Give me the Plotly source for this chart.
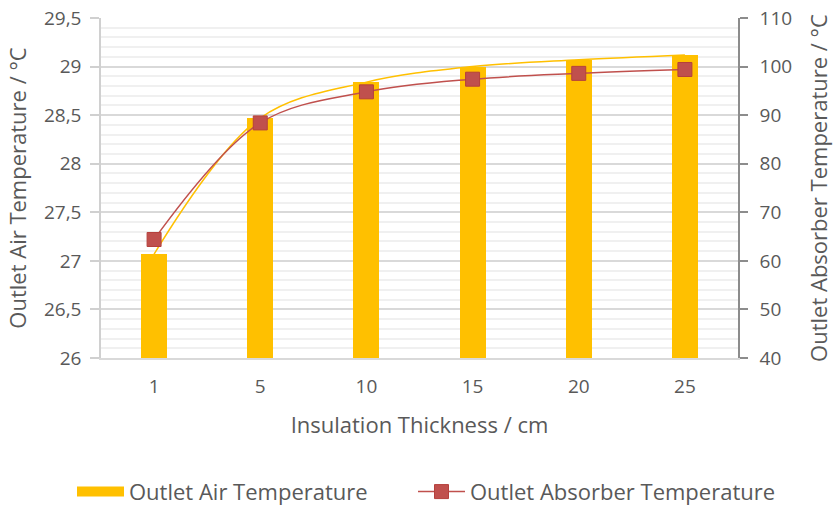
import plotly.graph_objects as go

# Insulation thickness categories (cm)
thickness = ["1", "5", "10", "15", "20", "25"]
# Outlet air temperature (°C), left axis
air_temp = [27.07, 28.47, 28.84, 29.00, 29.07, 29.12]
# Outlet absorber temperature (°C), right axis
absorber_temp = [64.4, 88.4, 94.8, 97.4, 98.6, 99.4]

left_ticks = [26, 26.5, 27, 27.5, 28, 28.5, 29, 29.5]
right_ticks = [40, 50, 60, 70, 80, 90, 100, 110]

YELLOW = "#FFC000"
RED = "#C0504D"
TEXT = "#595959"
FONT = "Open Sans"
TICK_SIZE = 19
TITLE_SIZE = 22

fig = go.Figure()

fig.add_trace(go.Bar(
    x=thickness, y=air_temp, width=0.245,
    marker=dict(color=YELLOW, line=dict(width=0)),
    name="Outlet Air Temperature", showlegend=False,
    legendgroup="air", yaxis="y",
))

fig.add_trace(go.Scatter(
    x=thickness, y=air_temp, mode="lines",
    line=dict(color=YELLOW, width=1.5, shape="spline", smoothing=1),
    showlegend=False, legendgroup="air", yaxis="y", hoverinfo="skip",
))

# legend swatch for the bar series (wide rectangle)
fig.add_trace(go.Scatter(
    x=[None], y=[None], mode="lines",
    line=dict(color=YELLOW, width=13),
    name="Outlet Air Temperature", legendgroup="air", yaxis="y",
    legend="legend",
))

fig.add_trace(go.Scatter(
    x=thickness, y=absorber_temp, mode="lines+markers",
    line=dict(color=RED, width=1.5, shape="spline", smoothing=1),
    marker=dict(symbol="square", size=14, color=RED,
                line=dict(color="#B5403C", width=1)),
    name="Outlet Absorber Temperature", yaxis="y2",
    legend="legend2",
))

legend_style = dict(
    orientation="h", xref="container", yref="container",
    xanchor="left", y=0.03, yanchor="middle",
    font=dict(size=TITLE_SIZE, color=TEXT), itemwidth=47,
    bgcolor="rgba(0,0,0,0)",
)

fig.update_layout(
    width=835, height=507,
    margin=dict(l=101, r=97, t=18, b=149, autoexpand=False),
    paper_bgcolor="white", plot_bgcolor="white",
    separators=",.",
    font=dict(family=FONT, size=TICK_SIZE, color=TEXT),
    bargap=0,
    xaxis=dict(
        type="category", categoryorder="array", categoryarray=thickness,
        showline=True, linecolor="#d9d9d9", linewidth=1.5,
        showgrid=False, ticks="", ticklabelstandoff=10,
        tickfont=dict(size=TICK_SIZE, color=TEXT),
        title=dict(text="Insulation Thickness / cm", standoff=20,
                   font=dict(size=TITLE_SIZE, color=TEXT)),
    ),
    yaxis=dict(
        range=[26, 29.5], tickvals=left_ticks,
        showline=True, linecolor="#d0d0d0", linewidth=1.5,
        ticks="outside", ticklen=9, tickcolor="#d0d0d0", tickwidth=1.5,
        ticklabelstandoff=5,
        showgrid=True, gridcolor="#d9d9d9", gridwidth=1.5,
        minor=dict(dtick=0.1, showgrid=True, gridcolor="#f0f0f0", gridwidth=1.5),
        zeroline=False, tickfont=dict(size=TICK_SIZE, color=TEXT),
        title=dict(text="Outlet Air Temperature / °C", standoff=11,
                   font=dict(size=TITLE_SIZE, color=TEXT)),
    ),
    yaxis2=dict(
        range=[40, 110], tickvals=right_ticks, overlaying="y", side="right",
        showline=True, linecolor="#8c8c8c", linewidth=1.5,
        ticks="outside", ticklen=8, tickcolor="#8c8c8c", tickwidth=1.5,
        ticklabelstandoff=8,
        showgrid=False, zeroline=False, tickfont=dict(size=TICK_SIZE, color=TEXT),
        title=dict(text="Outlet Absorber Temperature / °C", standoff=20,
                   font=dict(size=TITLE_SIZE, color=TEXT)),
    ),
    legend=dict(legend_style, x=72 / 835),
    legend2=dict(legend_style, x=413 / 835),
)

fig.write_html("out.html")
